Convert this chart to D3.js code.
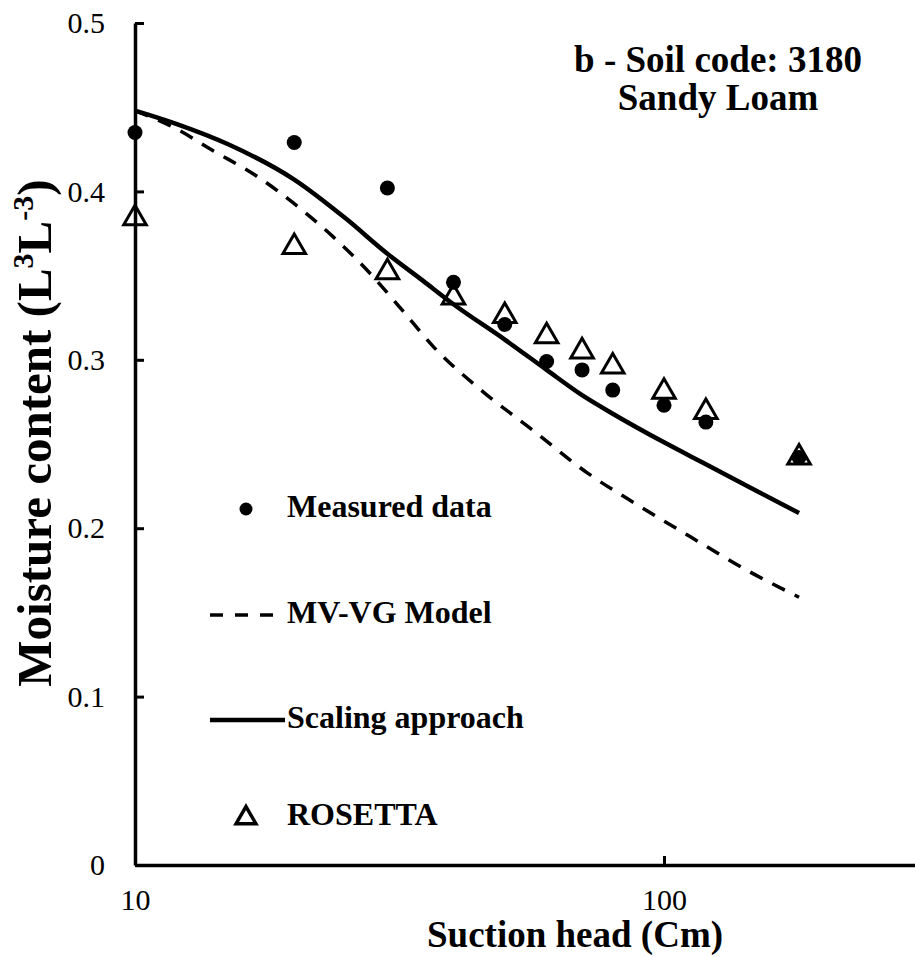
<!DOCTYPE html>
<html>
<head>
<meta charset="utf-8">
<script src="https://cdn.jsdelivr.net/npm/d3@7"></script>
<style>
  html, body { margin: 0; padding: 0; background: #fff; }
  svg { display: block; }
  text { font-family: "Liberation Serif", "Times New Roman", serif; font-weight: bold; fill: #000; }
</style>
</head>
<body>
<div id="chart"></div>
<script>
// ---- data ----
const suction = [10, 20, 30, 40, 50, 60, 70, 80, 100, 120, 180];
const measured = [0.435, 0.429, 0.402, 0.346, 0.321, 0.299, 0.294, 0.282, 0.273, 0.263, 0.242];
const rosetta = [0.384, 0.367, 0.352, 0.337, 0.326, 0.314, 0.305, 0.296, 0.281, 0.269, 0.242];

const scalingH = [10, 12, 15, 20, 25, 30, 35, 40, 50, 60, 70, 80, 100, 120, 150, 180];
const scalingTheta = [0.448, 0.440, 0.428, 0.407, 0.384, 0.363, 0.347, 0.333, 0.312, 0.294, 0.279, 0.268, 0.251, 0.238, 0.222, 0.209];

const mvvgH = [10, 12, 13.9, 17, 20.5, 23.7, 27.5, 31.7, 36.6, 45.5, 56.6, 71.5, 90, 112, 143.5, 180];
const mvvgTheta = [0.448, 0.437, 0.425, 0.409, 0.390, 0.373, 0.353, 0.331, 0.308, 0.281, 0.258, 0.233, 0.213, 0.195, 0.175, 0.159];

const xTicks = [10, 100];
const yTicks = [0, 0.1, 0.2, 0.3, 0.4, 0.5];
const legendLabels = ["Measured data", "MV-VG Model", "Scaling approach", "ROSETTA"];
const titleLines = ["b - Soil code: 3180", "Sandy Loam"];
const xTitle = "Suction head (Cm)";

// ---- layout ----
const W = 915, H = 957;
const x0 = 135, decade = 529;
const x = d3.scaleLog().domain([10, 300]).range([x0, x0 + decade * Math.log10(30)]);
const y = d3.scaleLinear().domain([0, 0.5]).range([865, 23]);

const svg = d3.select("#chart").append("svg").attr("width", W).attr("height", H);

// axes
const yAxis = d3.axisLeft(y).tickValues(yTicks)
  .tickFormat(d => d === 0 ? "0" : d3.format(".1f")(d))
  .tickSizeInner(-9).tickSizeOuter(0).tickPadding(30);
const gy = svg.append("g").attr("transform", `translate(${x0},0)`).call(yAxis);

const xAxis = d3.axisBottom(x).tickValues(xTicks).tickFormat(d3.format("d"))
  .tickSizeInner(-9).tickSizeOuter(0).tickPadding(24);
const gx = svg.append("g").attr("transform", `translate(0,${y(0)})`).call(xAxis);

[gx, gy].forEach(g => {
  g.select(".domain").attr("stroke", "#000").attr("stroke-width", 3.5);
  g.selectAll(".tick line").attr("stroke", "#000").attr("stroke-width", 3);
  g.selectAll(".tick text").attr("font-size", 30)
    .style("font-family", '"Liberation Serif", serif').style("font-weight", "normal");
});

// curves
const line = d3.line().x(d => x(d[0])).y(d => y(d[1])).curve(d3.curveMonotoneX);
svg.append("path")
  .datum(mvvgH.map((h, i) => [h, mvvgTheta[i]]))
  .attr("d", line).attr("fill", "none").attr("stroke", "#000")
  .attr("stroke-width", 3.5).attr("stroke-dasharray", "14,11");
svg.append("path")
  .datum(scalingH.map((h, i) => [h, scalingTheta[i]]))
  .attr("d", line).attr("fill", "none").attr("stroke", "#000")
  .attr("stroke-width", 4.5);

// markers
const tri = d3.symbol().type(d3.symbolTriangle).size(220);
svg.append("g").selectAll("path")
  .data(suction.map((h, i) => [h, rosetta[i]]))
  .join("path")
  .attr("d", tri)
  .attr("transform", d => `translate(${x(d[0])},${y(d[1])})`)
  .attr("fill", "none").attr("stroke", "#000").attr("stroke-width", 3);

svg.append("g").selectAll("circle")
  .data(suction.map((h, i) => [h, measured[i]]))
  .join("circle")
  .attr("cx", d => x(d[0])).attr("cy", d => y(d[1])).attr("r", 7.5)
  .attr("fill", "#000");

// legend
const lg = svg.append("g");
const lx = 287;
const lys = [517, 623, 728, 825];
lg.append("circle").attr("cx", 246).attr("cy", 509).attr("r", 6.5).attr("fill", "#000");
lg.append("line").attr("x1", 210).attr("x2", 285).attr("y1", 615).attr("y2", 615)
  .attr("stroke", "#000").attr("stroke-width", 3.5).attr("stroke-dasharray", "13,12");
lg.append("line").attr("x1", 210).attr("x2", 285).attr("y1", 720).attr("y2", 720)
  .attr("stroke", "#000").attr("stroke-width", 4.5);
lg.append("path").attr("d", d3.symbol().type(d3.symbolTriangle).size(170))
  .attr("transform", "translate(246,818)")
  .attr("fill", "none").attr("stroke", "#000").attr("stroke-width", 3.5);
legendLabels.forEach((t, i) => {
  lg.append("text").attr("x", lx).attr("y", lys[i]).attr("font-size", 32).text(t);
});

// title
titleLines.forEach((t, i) => {
  svg.append("text").attr("x", 718).attr("y", [72, 110][i])
    .attr("text-anchor", "middle").attr("font-size", 37).text(t);
});

// x title
svg.append("text").attr("x", 427).attr("y", 947).attr("font-size", 37).text(xTitle);

// y title
const yt = svg.append("text")
  .attr("transform", "translate(51,433) rotate(-90)")
  .attr("text-anchor", "middle").attr("font-size", 49);
yt.append("tspan").text("Moisture content (L");
yt.append("tspan").attr("dy", -18).attr("font-size", 30).text("3");
yt.append("tspan").attr("dy", 18).text("L");
yt.append("tspan").attr("dy", -18).attr("font-size", 30).text("-3");
yt.append("tspan").attr("dy", 18).text(")");
</script>
</body>
</html>
